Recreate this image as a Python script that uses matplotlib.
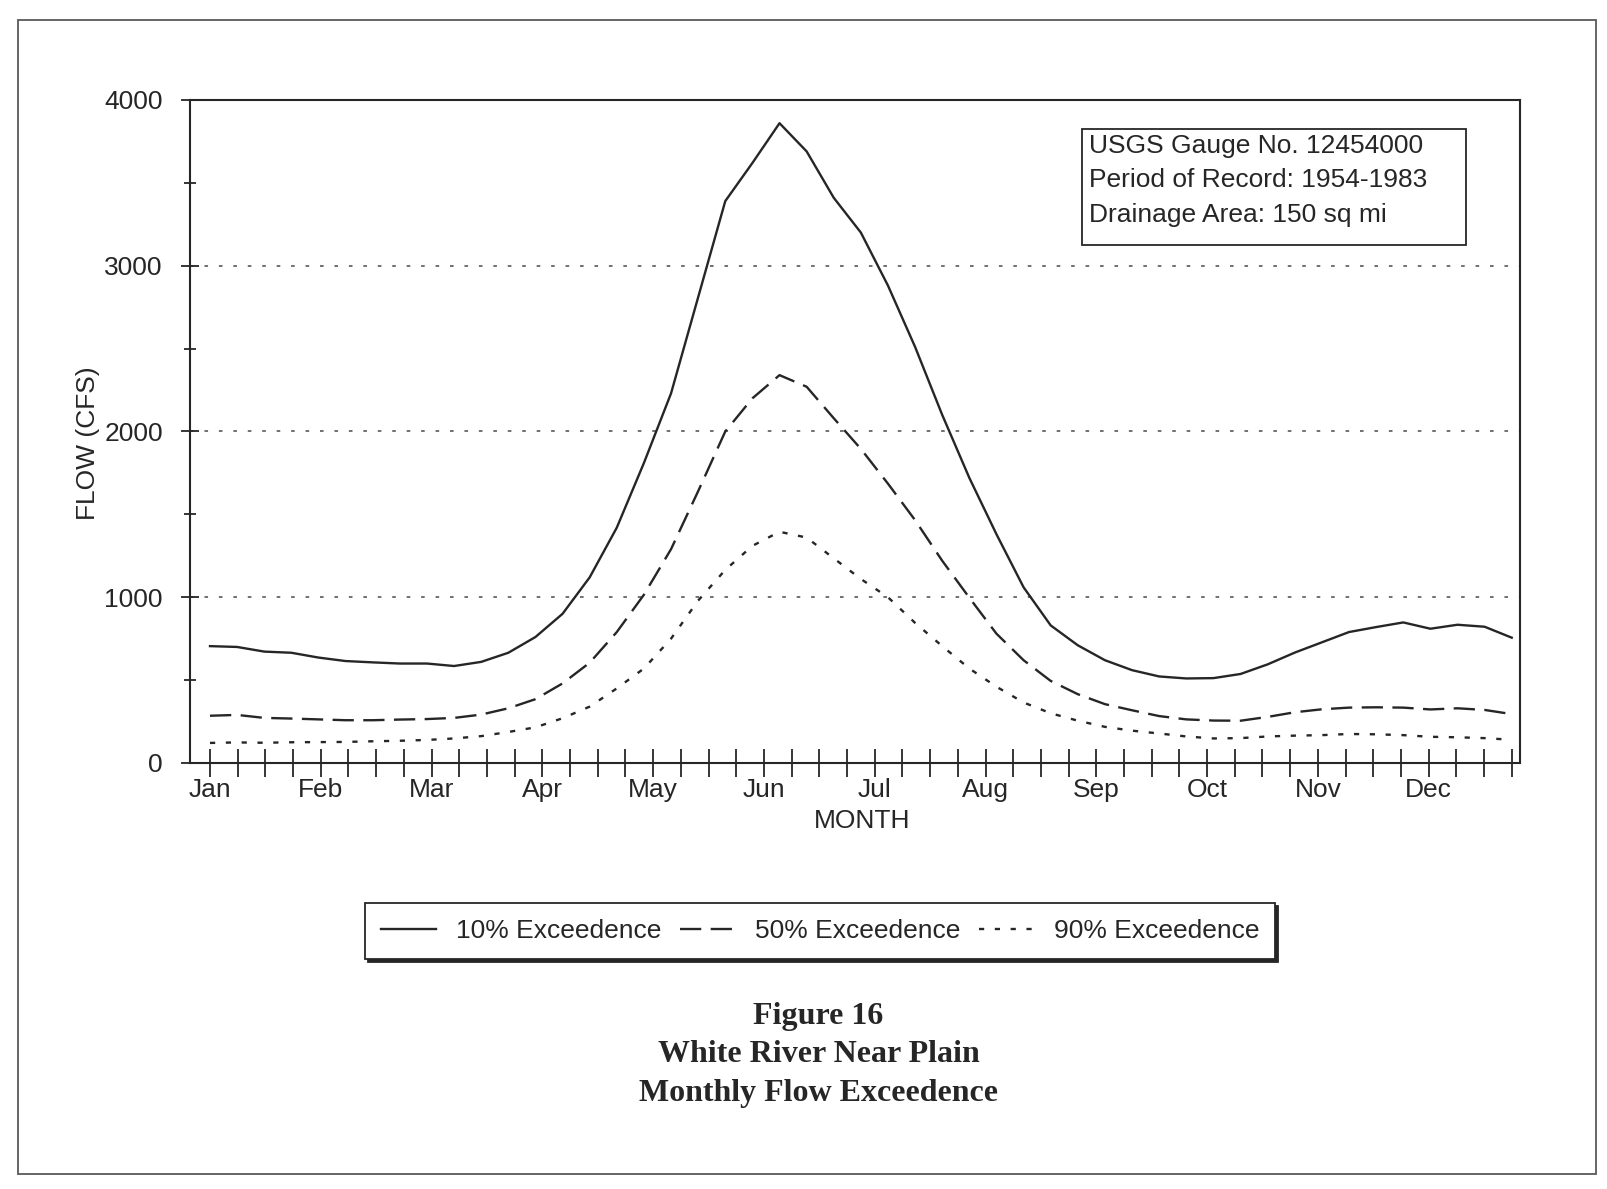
import matplotlib
matplotlib.use("Agg")
import matplotlib.pyplot as plt
from matplotlib.patches import Rectangle
import numpy as np

months = ["Jan", "Feb", "Mar", "Apr", "May", "Jun",
          "Jul", "Aug", "Sep", "Oct", "Nov", "Dec"]

# flow in cfs, 49 readings spread evenly from the start of Jan to the end of Dec
flow_10 = [705, 700, 672, 665, 636, 615, 607, 600, 600, 585, 610, 665, 760,
           900, 1120, 1420, 1810, 2230, 2810, 3390, 3620, 3860, 3690, 3410,
           3200, 2880, 2510, 2100, 1720, 1380, 1060, 830, 710, 620, 560, 522,
           510, 512, 537, 595, 666, 728, 790, 820, 848, 810, 834, 822, 756]
flow_50 = [285, 290, 272, 268, 263, 258, 258, 262, 265, 272, 292, 330, 385,
           480, 605, 790, 1015, 1290, 1640, 2000, 2200, 2340, 2270, 2080,
           1895, 1685, 1465, 1220, 997, 780, 620, 495, 415, 355, 318, 283,
           263, 256, 255, 278, 306, 324, 334, 336, 334, 323, 330, 320, 295]
flow_90 = [121, 124, 122, 125, 126, 127, 131, 134, 139, 148, 162, 187, 215,
           270, 340, 450, 570, 750, 980, 1165, 1310, 1395, 1360, 1235, 1110,
           1000, 845, 705, 570, 460, 365, 300, 255, 218, 195, 178, 160, 148,
           150, 160, 165, 168, 175, 173, 168, 158, 155, 150, 140]

y_ticks = [0, 1000, 2000, 3000, 4000]
gauge_info = ["USGS Gauge No. 12454000",
              "Period of Record: 1954-1983",
              "Drainage Area: 150 sq mi"]
caption = ["Figure 16", "White River Near Plain", "Monthly Flow Exceedence"]

ink = "#262626"
plt.rcParams["font.family"] = ["Liberation Sans", "DejaVu Sans"]
plt.rcParams["text.color"] = ink
plt.rcParams["axes.labelcolor"] = ink
plt.rcParams["xtick.color"] = ink
plt.rcParams["ytick.color"] = ink

# four ticks per month on the x axis
week = np.linspace(0, 47, len(flow_10))

fig = plt.figure(figsize=(16.08, 11.89), dpi=100)
ax = fig.add_axes([0.1182, 0.3583, 0.8271, 0.5576])

l10, = ax.plot(week, flow_10, color=ink, lw=1.7, label="10% Exceedence")
l50, = ax.plot(week, flow_50, color=ink, lw=1.7, ls=(0, (9, 4)),
               label="50% Exceedence")
l90, = ax.plot(week, flow_90, color=ink, lw=1.7, ls=(0, (2.2, 4.5)),
               label="90% Exceedence")

ax.set_xlim(-0.72, 47.3)
ax.set_ylim(0, 4000)

ax.set_xticks(np.arange(0, 48, 4))
ax.set_xticklabels(months)
ax.set_xticks(np.arange(48), minor=True)
ax.tick_params(axis="x", which="both", direction="inout", length=20,
               width=1.3, pad=1, labelsize=19)

ax.set_yticks(y_ticks)
ax.set_yticks(np.arange(500, 4000, 1000), minor=True)
ax.tick_params(axis="y", which="major", direction="inout", length=13,
               width=1.3, pad=13, labelsize=19)
ax.tick_params(axis="y", which="minor", direction="inout", length=8,
               width=1.3)

ax.grid(axis="y", which="major", color="0.4", lw=1.3, ls=(0, (2, 6)))
for sp in ax.spines.values():
    sp.set_linewidth(1.5)
    sp.set_color(ink)

ax.set_xlabel("MONTH", fontsize=19)
ax.xaxis.set_label_coords(0.505, -0.07)
ax.set_ylabel("FLOW (CFS)", fontsize=19)
ax.yaxis.set_label_coords(-0.068, 0.483)

# gauge info box in the upper right
ax.add_patch(Rectangle((0.671, 0.781), 0.288, 0.175, transform=ax.transAxes,
                       facecolor="white", edgecolor=ink, lw=1.3, zorder=5))
for line, yy in zip(gauge_info, [0.931, 0.879, 0.827]):
    ax.text(0.676, yy, line, transform=ax.transAxes, fontsize=19,
            va="center", ha="left", zorder=6)

leg = fig.legend(handles=[l10, l50, l90], loc="center",
                 bbox_to_anchor=(0.51, 0.217), ncol=3, fontsize=19,
                 frameon=True, fancybox=False, edgecolor=ink,
                 shadow={"color": ink, "alpha": 1},
                 handlelength=2.1, handletextpad=0.75, columnspacing=0.7,
                 borderpad=0.6, borderaxespad=0)
leg.get_frame().set_linewidth(1.3)

for text, yy in zip(caption, [0.1447, 0.1135, 0.0807]):
    fig.text(0.509, yy, text, ha="center", va="center", fontsize=23,
             fontweight="bold", family=["Liberation Serif", "DejaVu Serif"])

# page border
fig.patches.append(Rectangle((0.011, 0.0126), 0.9815, 0.9706,
                             transform=fig.transFigure, fill=False,
                             edgecolor="0.35", lw=1.3))

fig.savefig("out.png", dpi=100)
